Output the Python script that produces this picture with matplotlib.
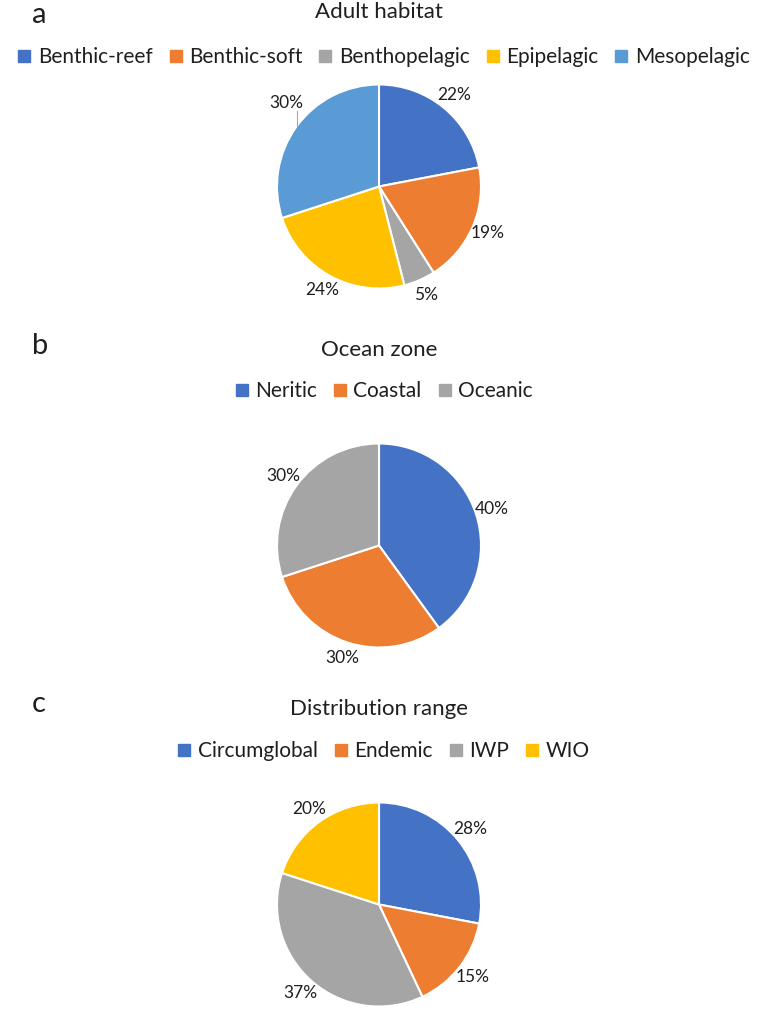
# Drei Kreisdiagramme: Habitat, Ozeanzone, Verbreitung

import numpy as np
import matplotlib.pyplot as plt
from matplotlib.lines import Line2D

plt.rcParams['font.family'] = ['Lato', 'DejaVu Sans']

BLUE, ORANGE, GRAY, YELLOW, LBLUE = '#4472C4', '#ED7D31', '#A5A5A5', '#FFC000', '#5B9BD5'
TXT = '#1f1f1f'

habitat_labels = ['Benthic-reef', 'Benthic-soft', 'Benthopelagic', 'Epipelagic', 'Mesopelagic']
habitat_values = [22, 19, 5, 24, 30]

zone_labels = ['Neritic', 'Coastal', 'Oceanic']
zone_values = [40, 30, 30]

range_labels = ['Circumglobal', 'Endemic', 'IWP', 'WIO']
range_values = [28, 15, 37, 20]

W, H = 766, 1011
fig = plt.figure(figsize=(W / 100, H / 100), dpi=100)


def fy(y):
    return 1 - y / H


def panel(letter, title, labels, values, colors, yl, yt, yleg, ycen, r=102, L=1.6):
    fig.text(32 / W, fy(yl), letter, fontsize=21, ha='left', va='baseline', color=TXT)
    fig.text(379 / W, fy(yt), title, fontsize=16, ha='center', va='baseline', color=TXT)

    side = 2 * L * r
    ax = fig.add_axes([(379 - side / 2) / W, (H - ycen - side / 2) / H, side / W, side / H])
    wedges, texts, autotexts = ax.pie(
        values, colors=colors, startangle=90, counterclock=False,
        autopct=lambda p: '{:.0f}%'.format(p), pctdistance=1.16,
        wedgeprops=dict(edgecolor='white', linewidth=1.5),
        textprops=dict(fontsize=12.5, color=TXT))
    ax.set_xlim(-L, L)
    ax.set_ylim(-L, L)
    ax.set_aspect('equal')
    ax.axis('off')

    handles = [Line2D([], [], marker='s', linestyle='', markersize=8, color=c) for c in colors]
    fig.legend(handles, labels, loc='center', bbox_to_anchor=(384 / W, fy(yleg)),
               ncol=len(labels), frameon=False, fontsize=15, handlelength=0.6,
               handletextpad=0.35, columnspacing=0.8, labelcolor=TXT)
    return ax, autotexts


ax_a, at_a = panel('a', 'Adult habitat', habitat_labels, habitat_values,
                   [BLUE, ORANGE, GRAY, YELLOW, LBLUE], 23, 18, 57, 186.5)
# Beschriftung 30% mit Führungslinie etwas nach oben versetzt
ang = np.deg2rad(138)
tx, ty = 1.22 * np.cos(ang), 1.22 * np.sin(ang)
at_a[4].set_position((tx, ty))
lx = tx + 0.1
ax_a.plot([lx, lx], [ty - 0.08, np.sqrt(1 - lx ** 2)], color='#A5A5A5', lw=0.8)

panel('b', 'Ocean zone', zone_labels, zone_values,
      [BLUE, ORANGE, GRAY], 354, 356, 391, 545.5)
panel('c', 'Distribution range', range_labels, range_values,
      [BLUE, ORANGE, GRAY, YELLOW], 712, 715, 751, 904.5)

fig.savefig('out.png', dpi=100)
